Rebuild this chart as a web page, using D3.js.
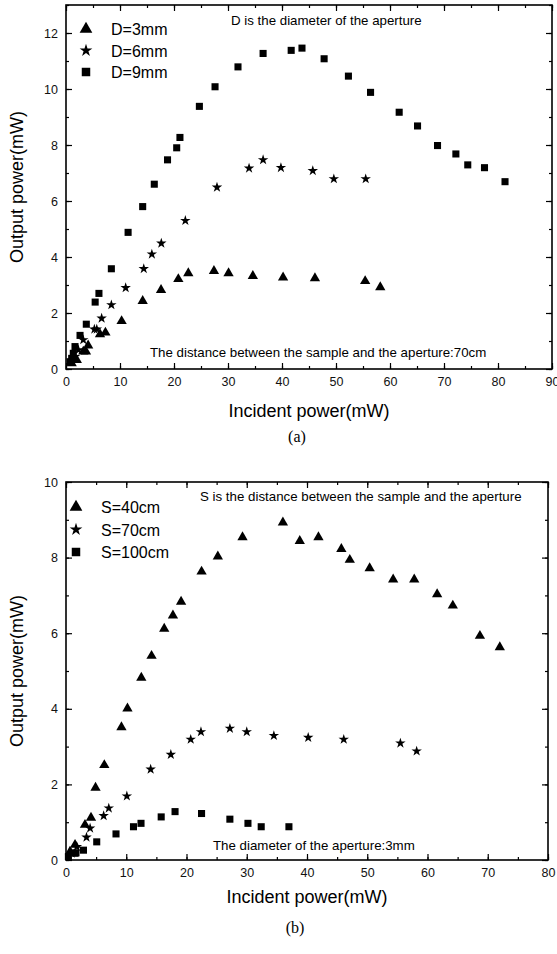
<!DOCTYPE html>
<html>
<head>
<meta charset="utf-8">
<script src="https://cdn.jsdelivr.net/npm/d3@7"></script>
<style>
  body { margin: 0; background: #fff; }
  svg text { font-family: "Liberation Sans", Arial, sans-serif; }
</style>
</head>
<body>
<svg id="chart" width="557" height="954"></svg>
<script>
// ---- panel (a): aperture diameter, S = 70cm ----
var a_d3x = [1.05, 2.0, 3.2, 3.7, 4.1, 6.3, 7.3, 10.3, 14.2, 17.6, 20.8, 22.65, 27.4, 30.1, 34.6, 40.2, 46.1, 55.4, 58.2];
var a_d3y = [0.2, 0.32, 0.62, 0.62, 0.84, 1.24, 1.3, 1.71, 2.43, 2.82, 3.21, 3.42, 3.5, 3.42, 3.32, 3.27, 3.24, 3.14, 2.92];

var a_d6x = [1.67, 2.3, 3.2, 5.25, 5.7, 6.6, 8.4, 11.05, 14.4, 15.9, 17.65, 22.1, 27.96, 33.9, 36.5, 39.8, 45.7, 49.6, 55.5];
var a_d6y = [0.44, 0.68, 1.04, 1.42, 1.42, 1.81, 2.29, 2.9, 3.58, 4.1, 4.49, 5.3, 6.49, 7.17, 7.47, 7.19, 7.08, 6.79, 6.79];

var a_d9x = [0.74, 1.05, 1.35, 1.67, 2.6, 3.76, 5.4, 6.1, 8.4, 11.5, 14.2, 16.35, 18.8, 20.5, 21.1, 24.7, 27.6, 31.85, 36.5, 41.7, 43.7, 47.8, 52.3, 56.4, 61.7, 65.1, 68.8, 72.2, 74.4, 77.5, 81.3];
var a_d9y = [0.26, 0.38, 0.56, 0.8, 1.2, 1.6, 2.39, 2.7, 3.58, 4.88, 5.8, 6.6, 7.47, 7.9, 8.27, 9.38, 10.08, 10.79, 11.27, 11.38, 11.46, 11.08, 10.46, 9.88, 9.17, 8.68, 7.98, 7.68, 7.29, 7.19, 6.69];

var a_labels = ['D=3mm', 'D=6mm', 'D=9mm'];
var a_xTicks = [0, 10, 20, 30, 40, 50, 60, 70, 80, 90];
var a_yTicks = [0, 2, 4, 6, 8, 10, 12];

// ---- panel (b): sample distance, D = 3mm ----
var b_s40x = [0.66, 1.5, 3.15, 4.15, 4.9, 6.36, 9.2, 10.2, 12.5, 14.2, 16.3, 17.75, 19.1, 22.5, 25.2, 29.3, 36.0, 38.8, 41.9, 45.7, 47.1, 50.4, 54.3, 57.8, 61.6, 64.2, 68.7, 72.0];
var b_s40y = [0.22, 0.4, 0.93, 1.12, 1.91, 2.51, 3.51, 4.01, 4.82, 5.4, 6.12, 6.47, 6.83, 7.63, 8.03, 8.54, 8.93, 8.44, 8.54, 8.23, 7.94, 7.72, 7.42, 7.42, 7.03, 6.73, 5.93, 5.63];

var b_s70x = [0.94, 1.8, 3.4, 4.0, 6.25, 7.1, 10.1, 14.05, 17.4, 20.7, 22.4, 27.2, 30.0, 34.5, 40.2, 46.1, 55.5, 58.2];
var b_s70y = [0.18, 0.35, 0.6, 0.84, 1.17, 1.37, 1.69, 2.4, 2.79, 3.19, 3.39, 3.48, 3.39, 3.29, 3.24, 3.19, 3.09, 2.88];

var b_s100x = [0.4, 1.5, 1.66, 2.9, 5.1, 8.3, 11.2, 12.45, 15.8, 18.1, 22.5, 27.2, 30.2, 32.4, 37.0];
var b_s100y = [0.09, 0.18, 0.19, 0.26, 0.48, 0.69, 0.88, 0.97, 1.14, 1.28, 1.23, 1.08, 0.97, 0.88, 0.88];

var b_labels = ['S=40cm', 'S=70cm', 'S=100cm'];
var b_xTicks = [0, 10, 20, 30, 40, 50, 60, 70, 80];
var b_yTicks = [0, 2, 4, 6, 8, 10];

var svg = d3.select('#chart');

var symTri = d3.symbol().type(d3.symbolTriangle).size(46);
var symStar = d3.symbol().type(d3.symbolStar).size(34);
var symSq = d3.symbol().type(d3.symbolSquare).size(50);

function zip(xs, ys) {
  return xs.map(function(x, i) { return [x, ys[i]]; });
}

function drawPanel(opt) {
  var g = svg.append('g');
  var x = d3.scaleLinear().domain(opt.xDomain).range([opt.left, opt.right]);
  var y = d3.scaleLinear().domain(opt.yDomain).range([opt.bottom, opt.top]);

  var xMinor = d3.range(opt.xDomain[0], opt.xDomain[1] + 0.1, 5);
  var yMinor = d3.range(opt.yDomain[0], opt.yDomain[1] + 0.1, 1);

  // inward ticks on all four sides
  function ticks(axis, vals, len, labels) {
    var a = axis.tickValues(vals).tickSizeInner(-len).tickSizeOuter(0);
    if (!labels) a.tickFormat('');
    return a;
  }
  var bx = g.append('g').attr('transform', 'translate(0,' + opt.bottom + ')');
  bx.call(ticks(d3.axisBottom(x), xMinor, 3, false));
  bx.append('g').call(ticks(d3.axisBottom(x), opt.xTicks, 6, true).tickPadding(8));
  var tx = g.append('g').attr('transform', 'translate(0,' + opt.top + ')');
  tx.call(ticks(d3.axisTop(x), xMinor, 3, false));
  tx.append('g').call(ticks(d3.axisTop(x), opt.xTicks, 6, false));
  var ly = g.append('g').attr('transform', 'translate(' + opt.left + ',0)');
  ly.call(ticks(d3.axisLeft(y), yMinor, 3, false));
  ly.append('g').call(ticks(d3.axisLeft(y), opt.yTicks, 6, true).tickPadding(8));
  var ry = g.append('g').attr('transform', 'translate(' + opt.right + ',0)');
  ry.call(ticks(d3.axisRight(y), yMinor, 3, false));
  ry.append('g').call(ticks(d3.axisRight(y), opt.yTicks, 6, false));

  g.selectAll('.domain').remove();
  g.selectAll('.tick line').attr('stroke', '#000').attr('stroke-width', 1.2);
  g.selectAll('.tick text').attr('font-size', 12.5).attr('fill', '#111');

  g.append('rect')
    .attr('x', opt.left).attr('y', opt.top)
    .attr('width', opt.right - opt.left).attr('height', opt.bottom - opt.top)
    .attr('fill', 'none').attr('stroke', '#000').attr('stroke-width', 1.6);

  var syms = [symTri, symStar, symSq];
  opt.series.forEach(function(s, k) {
    g.append('g').selectAll('path')
      .data(zip(s[0], s[1]))
      .enter().append('path')
      .attr('d', syms[k])
      .attr('transform', function(d) {
        return 'translate(' + x(d[0]) + ',' + y(d[1]) + ')';
      })
      .attr('fill', '#000');
  });

  // legend
  opt.labels.forEach(function(lab, k) {
    var ly0 = opt.legY + k * opt.legDy;
    g.append('path').attr('d', [d3.symbol().type(d3.symbolTriangle).size(70),
        d3.symbol().type(d3.symbolStar).size(50), d3.symbol().type(d3.symbolSquare).size(72)][k])
      .attr('transform', 'translate(' + opt.legX + ',' + ly0 + ')');
    g.append('text').attr('x', opt.legX + 25).attr('y', ly0 + 6)
      .attr('font-size', 16).text(lab);
  });

  opt.notes.forEach(function(n) {
    g.append('text').attr('x', n[0]).attr('y', n[1])
      .attr('font-size', 13.3).text(n[2]);
  });

  g.append('text')
    .attr('transform', 'translate(' + opt.yTitleX + ',' + ((opt.top + opt.bottom) / 2) + ') rotate(-90)')
    .attr('text-anchor', 'middle').attr('font-size', 18)
    .text('Output power(mW)');
  g.append('text')
    .attr('x', (opt.left + opt.right) / 2).attr('y', opt.xTitleY)
    .attr('text-anchor', 'middle').attr('font-size', 18)
    .text('Incident power(mW)');
  g.append('text')
    .attr('x', (opt.left + opt.right) / 2 - 12).attr('y', opt.capY)
    .attr('text-anchor', 'middle').attr('font-size', 16)
    .style('font-family', '"Liberation Serif", "Times New Roman", serif')
    .text(opt.caption);
}

drawPanel({
  left: 66, right: 552, top: 5, bottom: 369,
  xDomain: [0, 90], yDomain: [0, 13],
  xTicks: a_xTicks, yTicks: a_yTicks,
  series: [[a_d3x, a_d3y], [a_d6x, a_d6y], [a_d9x, a_d9y]],
  labels: a_labels, legX: 86, legY: 29, legDy: 21.5,
  notes: [[231, 25, 'D is the diameter of the aperture'],
          [150, 357, 'The distance between the sample and the aperture:70cm']],
  yTitleX: 23, xTitleY: 417, capY: 442, caption: '(a)'
});

drawPanel({
  left: 66, right: 548, top: 482, bottom: 860,
  xDomain: [0, 80], yDomain: [0, 10],
  xTicks: b_xTicks, yTicks: b_yTicks,
  series: [[b_s40x, b_s40y], [b_s70x, b_s70y], [b_s100x, b_s100y]],
  labels: b_labels, legX: 76, legY: 507, legDy: 22.5,
  notes: [[200, 501, 'S is the distance between the sample and the aperture'],
          [213, 850, 'The diameter of the aperture:3mm']],
  yTitleX: 23, xTitleY: 903, capY: 933, caption: '(b)'
});
</script>
</body>
</html>
